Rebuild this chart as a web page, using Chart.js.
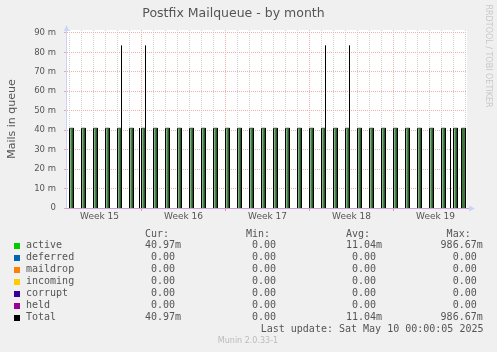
<!DOCTYPE html>
<html>
<head>
<meta charset="utf-8">
<title>Postfix Mailqueue - by month</title>
<script src="https://cdn.jsdelivr.net/npm/chart.js@4.4.1/dist/chart.umd.min.js"></script>
<style>
  html, body { margin: 0; padding: 0; background: #f0f0f0; }
  canvas { display: block; }
</style>
</head>
<body>
<canvas id="mailqueue" width="497" height="352"></canvas>
<script>
// x axis is in hours, relative to Monday 00:00 of week 16 (2 hours per pixel)
const xMin = -149;
const xMax = 651;

const weekLabels = ['Week 15', 'Week 16', 'Week 17', 'Week 18', 'Week 19'];
const weekLabelHours = [-84, 84, 252, 420, 588];
const weekStartHours = [0, 168, 336, 504];
const dayHours = [-144, -120, -96, -72, -48, -24, 0, 24, 48, 72, 96, 120, 144, 168, 192, 216, 240,
    264, 288, 312, 336, 360, 384, 408, 432, 456, 480, 504, 528, 552, 576, 600, 624, 648];

const yGridValues = [0, 5, 10, 15, 20, 25, 30, 35, 40, 45, 50, 55, 60, 65, 70, 75, 80, 85, 90];

// queue bursts of "active" mails (values in milli-mails)
const burstStart = [-144, -120, -96, -72, -48, -24, -4, 0, 24, 48, 72, 96, 120, 144, 168, 192, 216, 240,
    264, 288, 312, 336, 360, 384, 408, 432, 456, 480, 504, 528, 552, 576, 600, 618, 624, 640];
const burstEnd = [-136, -112, -88, -64, -40, -16, -4, 8, 32, 56, 80, 104, 128, 152, 176, 200, 224, 248,
    272, 296, 320, 344, 368, 392, 416, 440, 464, 488, 512, 536, 560, 584, 608, 618, 632, 648];
const burstLevel = [41, 41, 41, 41, 41, 41, 41, 41, 41, 41, 41, 41, 41, 41, 41, 41, 41, 41,
    41, 41, 41, 41, 41, 41, 41, 41, 41, 41, 41, 41, 41, 41, 41, 41, 41, 41];
const burstPeak = [41, 41, 41, 41, 83.5, 41, 41, 83.5, 41, 41, 41, 41, 41, 41, 41, 41, 41, 41,
    41, 41, 41, 41, 83.5, 41, 83.5, 41, 41, 41, 41, 41, 41, 41, 41, 41, 41, 41];

// legend table
const seriesNames = ['active', 'deferred', 'maildrop', 'incoming', 'corrupt', 'held', 'Total'];
const seriesColors = ['#00cc00', '#0066b3', '#ff8000', '#ffcc00', '#330099', '#990099', '#000000'];
const curValues = ['40.97m', '0.00', '0.00', '0.00', '0.00', '0.00', '40.97m'];
const minValues = ['0.00', '0.00', '0.00', '0.00', '0.00', '0.00', '0.00'];
const avgValues = ['11.04m', '0.00', '0.00', '0.00', '0.00', '0.00', '11.04m'];
const maxValues = ['986.67m', '0.00', '0.00', '0.00', '0.00', '0.00', '986.67m'];
const lastUpdate = 'Last update: Sat May 10 00:00:05 2025';

const MAJOR = '#f0b0b0';
const MINOR = '#d2d2d2';
const TEXT = '#555555';

// build the point list of the active area from the bursts
const activePoints = [];
burstStart.forEach((s, i) => {
    activePoints.push({ x: s, y: 0 });
    activePoints.push({ x: s, y: burstLevel[i] });
    activePoints.push({ x: burstEnd[i], y: burstLevel[i] });
    if (burstPeak[i] !== burstLevel[i]) {
        activePoints.push({ x: burstEnd[i], y: burstPeak[i] });
    }
    activePoints.push({ x: burstEnd[i], y: 0 });
});
// other queues are all zero, so Total follows active
const totalPoints = activePoints.map(p => ({ x: p.x, y: p.y }));

function fmtCol(v) {
    // rrdtool "%6.2lf%s": suffix char or a blank
    const s = v.endsWith('m') ? v : v + ' ';
    return s.padStart(7, ' ');
}

// shaded fill, one 12px period per day (the downscaled munin look)
function burstShade() {
    const c = document.createElement('canvas');
    c.width = 12;
    c.height = 1;
    const g = c.getContext('2d');
    const cols = ['#3d713d', '#82b282', '#4a804a', '#285a28', '#183f18',
        '#3f763f', '#3f763f', '#3f763f', '#3f763f', '#3f763f', '#3f763f', '#3f763f'];
    cols.forEach((col, i) => { g.fillStyle = col; g.fillRect(i, 0, 1, 1); });
    const p = g.createPattern(c, 'repeat');
    p.setTransform(new DOMMatrix().translate(9, 0));
    return p;
}

const muninFrame = {
    id: 'muninFrame',
    beforeDraw(chart) {
        const { ctx, chartArea: a } = chart;
        ctx.save();
        ctx.fillStyle = '#f0f0f0';
        ctx.fillRect(0, 0, chart.width, chart.height);
        ctx.fillStyle = '#ffffff';
        ctx.fillRect(a.left, a.top, a.right - a.left, a.bottom - a.top);
        ctx.restore();
    },
    afterDraw(chart) {
        const { ctx, chartArea: a } = chart;
        ctx.save();

        // axes and arrows
        ctx.lineWidth = 1;
        ctx.strokeStyle = '#cdd3f7';
        ctx.fillStyle = '#cdd3f7';
        ctx.beginPath();
        ctx.moveTo(a.left - 0.5, 30);
        ctx.lineTo(a.left - 0.5, a.bottom + 1);
        ctx.stroke();
        ctx.beginPath();
        ctx.moveTo(a.left - 3, 31);
        ctx.lineTo(a.left + 2, 31);
        ctx.lineTo(a.left - 0.5, 25);
        ctx.closePath();
        ctx.fill();
        ctx.strokeStyle = '#cc9fdb';
        ctx.beginPath();
        ctx.moveTo(a.left - 1, a.bottom + 0.5);
        ctx.lineTo(469, a.bottom + 0.5);
        ctx.stroke();
        ctx.beginPath();
        ctx.moveTo(469, a.bottom - 2.5);
        ctx.lineTo(469, a.bottom + 3.5);
        ctx.lineTo(475, a.bottom + 0.5);
        ctx.closePath();
        ctx.fill();

        // y axis title
        ctx.fillStyle = TEXT;
        ctx.font = '11px "DejaVu Sans"';
        ctx.textAlign = 'center';
        ctx.textBaseline = 'middle';
        ctx.save();
        ctx.translate(12, (a.top + a.bottom) / 2);
        ctx.rotate(-Math.PI / 2);
        ctx.fillText('Mails in queue', 0, 0);
        ctx.restore();

        // rrdtool watermark
        ctx.save();
        ctx.fillStyle = '#c8c8c8';
        ctx.font = '8px "DejaVu Sans"';
        ctx.translate(488, 56);
        ctx.rotate(Math.PI / 2);
        ctx.fillText('RRDTOOL / TOBI OETIKER', 0, 0);
        ctx.restore();

        // legend
        ctx.font = '10px "DejaVu Sans Mono"';
        ctx.textAlign = 'left';
        ctx.fillStyle = TEXT;
        const cols = [139, 240, 340, 440.6];
        const heads = [' Cur:', ' Min:', ' Avg:', ' Max:'];
        heads.forEach((h, i) => ctx.fillText(h, cols[i], 234));
        const tables = [curValues, minValues, avgValues, maxValues];
        seriesNames.forEach((name, r) => {
            const y = 245.7 + r * 12;
            ctx.fillStyle = seriesColors[r];
            ctx.fillRect(14, Math.round(y) - 3, 6, 6);
            ctx.fillStyle = TEXT;
            ctx.fillText(name, 26, y);
            tables.forEach((t, c) => ctx.fillText(fmtCol(t[r]), cols[c], y));
        });
        ctx.fillText(lastUpdate, 260.7, 329.3);

        ctx.fillStyle = '#bbbbbb';
        ctx.font = '8px "DejaVu Sans"';
        ctx.textAlign = 'center';
        ctx.fillText('Munin 2.0.33-1', 248, 340.7);
        ctx.restore();
    }
};

new Chart(document.getElementById('mailqueue'), {
    type: 'line',
    data: {
        datasets: [
            {
                label: 'active',
                data: activePoints,
                borderWidth: 0,
                backgroundColor: burstShade(),
                fill: 'origin',
                pointRadius: 0,
                tension: 0,
                order: 2
            },
            {
                label: 'Total',
                data: totalPoints,
                borderWidth: 1,
                borderColor: '#000000',
                fill: false,
                pointRadius: 0,
                tension: 0,
                order: 1,
                segment: {
                    borderColor: c => {
                        if (c.p0.parsed.y !== c.p1.parsed.y) return '#000000';
                        return c.p0.parsed.y === 0 ? 'rgba(0,0,0,0)' : '#2f612f';
                    }
                }
            }
        ]
    },
    options: {
        responsive: false,
        animation: false,
        events: [],
        layout: { padding: { top: 0, right: 30, bottom: 124, left: 0 } },
        plugins: {
            legend: { display: false },
            tooltip: { enabled: false },
            title: {
                display: true,
                text: 'Postfix Mailqueue - by month',
                color: TEXT,
                font: { family: '"DejaVu Sans"', size: 12.5, weight: 'normal' },
                padding: { top: 6, bottom: 9 }
            }
        },
        scales: {
            x: {
                type: 'linear',
                min: xMin,
                max: xMax,
                afterBuildTicks: s => {
                    s.ticks = dayHours.concat(weekLabelHours).sort((p, q) => p - q).map(v => ({ value: v }));
                },
                afterFit: s => { s.height = 20; },
                grid: {
                    lineWidth: 1,
                    color: c => {
                        const v = c.tick ? c.tick.value : null;
                        if (weekStartHours.includes(v)) return MAJOR;
                        if (dayHours.includes(v)) return MINOR;
                        return 'rgba(0,0,0,0)';
                    },
                    drawTicks: true,
                    tickLength: 3,
                    tickColor: c => (c.tick && weekStartHours.includes(c.tick.value)) ? '#e89a9a' : 'rgba(0,0,0,0)'
                },
                border: { display: false, dash: [1, 1] },
                ticks: {
                    autoSkip: false,
                    maxRotation: 0,
                    padding: 0,
                    color: TEXT,
                    font: { family: '"DejaVu Sans"', size: 9 },
                    callback: v => {
                        const i = weekLabelHours.indexOf(v);
                        return i >= 0 ? weekLabels[i] : '';
                    }
                }
            },
            y: {
                min: 0,
                max: 91.5,
                afterBuildTicks: s => { s.ticks = yGridValues.map(v => ({ value: v })); },
                afterFit: s => { s.width = 67; },
                grid: {
                    color: c => {
                        const v = c.tick ? c.tick.value : 0;
                        if (v === 0) return 'rgba(0,0,0,0)';
                        return v % 10 === 0 ? MAJOR : MINOR;
                    },
                    drawTicks: true,
                    tickLength: 3,
                    tickColor: c => (c.tick && c.tick.value % 10 === 0) ? '#eca8a8' : '#d4d4d4'
                },
                border: { display: false, dash: [1, 1] },
                ticks: {
                    padding: 8,
                    color: TEXT,
                    font: { family: '"DejaVu Sans"', size: 8.5 },
                    callback: v => (v % 10 !== 0 ? '' : (v === 0 ? '0' : v + ' m'))
                }
            }
        }
    },
    plugins: [muninFrame]
});
</script>
</body>
</html>
